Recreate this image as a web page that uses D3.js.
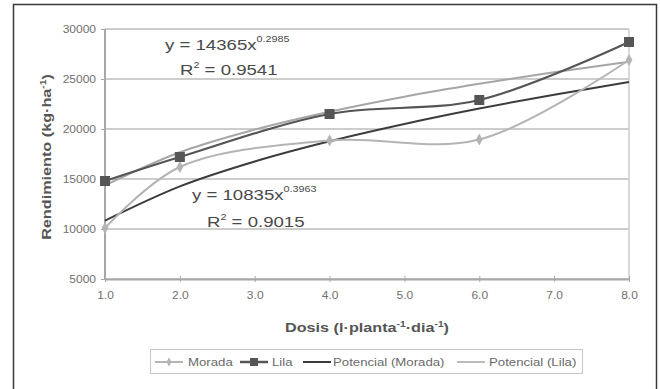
<!DOCTYPE html>
<html>
<head>
<meta charset="utf-8">
<script src="https://cdn.jsdelivr.net/npm/d3@7"></script>
<style>
  body { margin: 0; background: #fff; }
  svg { display: block; font-family: "Liberation Sans", Arial, sans-serif; }
  .tick text { fill: #707070; font-size: 10px; }
</style>
</head>
<body>
<div id="chart"></div>
<script>
// dose (l·planta-1·dia-1) and yield (kg·ha-1)
const doses = [1, 2, 4, 6, 8];
const morada = [10100, 16200, 18850, 18950, 26900];
const lila = [14800, 17200, 21500, 22900, 28700];

// power trendlines, sampled at each whole dose
const trendDoses = [1, 2, 3, 4, 5, 6, 7, 8];
const trendMorada = [10840, 14260, 16750, 18770, 20500, 22040, 23430, 24700];
const trendLila = [14370, 17670, 19940, 21730, 23230, 24520, 25680, 26720];

const yTicks = [5000, 10000, 15000, 20000, 25000, 30000];
const xTicks = [1, 2, 3, 4, 5, 6, 7, 8];

const width = 660, height = 389;
const svg = d3.select("#chart").append("svg")
  .attr("width", width).attr("height", height);

// the scanned figure is a little wider than tall, so stretch the type
const STRETCH = 1.2;
function stretch(sel) {
  sel.each(function () {
    const len = this.getComputedTextLength();
    d3.select(this).attr("textLength", len * STRETCH).attr("lengthAdjust", "spacingAndGlyphs");
  });
}

// outer frame (open at the bottom, as in the scan)
svg.append("path")
  .attr("d", "M13.5,395 V4.5 H656.5 V395")
  .attr("fill", "none").attr("stroke", "#3a3a3a").attr("stroke-width", 1.5);

const x = d3.scaleLinear().domain([1, 8]).range([105, 629]);
const y = d3.scaleLinear().domain([5000, 30000]).range([279, 29]);

// gridlines
svg.append("g").selectAll("line").data(yTicks).join("line")
  .attr("x1", x(1)).attr("x2", x(8))
  .attr("y1", d => y(d)).attr("y2", d => y(d))
  .attr("stroke", "#cdcdcd").attr("stroke-width", 2);
svg.append("line")
  .attr("x1", x(8)).attr("x2", x(8)).attr("y1", y(30000)).attr("y2", y(5000))
  .attr("stroke", "#cdcdcd").attr("stroke-width", 1.5);

// axes
const yAxis = svg.append("g").attr("transform", `translate(${x(1)},0)`)
  .call(d3.axisLeft(y).tickValues(yTicks).tickSize(4).tickPadding(5).tickFormat(d3.format("d")));
const xAxis = svg.append("g").attr("transform", `translate(0,${y(5000)})`)
  .call(d3.axisBottom(x).tickValues(xTicks).tickSizeInner(3).tickSizeOuter(0).tickPadding(10)
    .tickFormat(d3.format(".1f")));
[yAxis, xAxis].forEach(a => {
  a.select(".domain").attr("stroke", "#a8a8a8").attr("stroke-width", 2);
  a.selectAll(".tick line").attr("stroke", "#a8a8a8");
  stretch(a.selectAll(".tick text"));
});
yAxis.select(".domain").attr("d", `M0,${y(30000)}V${y(5000)}`);
xAxis.selectAll(".tick line").attr("y1", -3).attr("y2", 3);

// axis titles
const yt = svg.append("text")
  .attr("transform", `translate(51,${y(17200)}) rotate(-90)`)
  .attr("text-anchor", "middle").attr("font-size", 13.5).attr("font-weight", "bold")
  .attr("fill", "#555");
yt.append("tspan").text("Rendimiento (kg·ha");
yt.append("tspan").attr("dy", -5).attr("font-size", 8.5).text("-1");
yt.append("tspan").attr("dy", 5).text(")");

const xt = svg.append("text")
  .attr("x", 367).attr("y", 332)
  .attr("text-anchor", "middle").attr("font-size", 13.5).attr("font-weight", "bold")
  .attr("fill", "#555");
xt.append("tspan").text("Dosis (l·planta");
xt.append("tspan").attr("dy", -5).attr("font-size", 8.5).text("-1");
xt.append("tspan").attr("dy", 5).text("·dia");
xt.append("tspan").attr("dy", -5).attr("font-size", 8.5).text("-1");
xt.append("tspan").attr("dy", 5).text(")");
stretch(yt);
stretch(xt);

// series
const colMorada = "#b4b4b4", colLila = "#555555";
const colTrendMorada = "#3c3c3c", colTrendLila = "#a6a6a6";

const smooth = d3.line().x(d => x(d[0])).y(d => y(d[1])).curve(d3.curveCatmullRom.alpha(0.5));
const trend = d3.line().x(d => x(d[0])).y(d => y(d[1])).curve(d3.curveMonotoneX);

svg.append("path").datum(d3.zip(trendDoses, trendLila))
  .attr("d", trend).attr("fill", "none").attr("stroke", colTrendLila).attr("stroke-width", 2);
svg.append("path").datum(d3.zip(trendDoses, trendMorada))
  .attr("d", trend).attr("fill", "none").attr("stroke", colTrendMorada).attr("stroke-width", 2);
svg.append("path").datum(d3.zip(doses, morada))
  .attr("d", smooth).attr("fill", "none").attr("stroke", colMorada).attr("stroke-width", 2);
svg.append("path").datum(d3.zip(doses, lila))
  .attr("d", smooth).attr("fill", "none").attr("stroke", colLila).attr("stroke-width", 2.2);

const diamond = d3.symbol().type(d3.symbolDiamond).size(40);
svg.append("g").selectAll("path").data(d3.zip(doses, morada)).join("path")
  .attr("transform", d => `translate(${x(d[0])},${y(d[1])})`)
  .attr("d", diamond).attr("fill", colMorada);
svg.append("g").selectAll("rect").data(d3.zip(doses, lila)).join("rect")
  .attr("x", d => x(d[0]) - 5).attr("y", d => y(d[1]) - 5)
  .attr("width", 10).attr("height", 10).attr("fill", colLila);

// trendline equations
function equation(ex, ey, rx, ry, coef, expo, r2) {
  const e = svg.append("text").attr("x", ex).attr("y", ey)
    .attr("font-size", 15.5).attr("fill", "#4a4a4a");
  e.append("tspan").text(`y = ${coef}x`);
  e.append("tspan").attr("dy", -8).attr("font-size", 9).text(expo);
  const r = svg.append("text").attr("x", rx).attr("y", ry)
    .attr("font-size", 15.5).attr("fill", "#4a4a4a");
  r.append("tspan").text("R");
  r.append("tspan").attr("dy", -7).attr("font-size", 9).text("2");
  r.append("tspan").attr("dy", 7).text(` = ${r2}`);
  stretch(e);
  stretch(r);
}
equation(165, 50, 180, 75, "14365", "0.2985", "0.9541");
equation(192, 200, 207, 227, "10835", "0.3963", "0.9015");

// legend
const lg = svg.append("g");
lg.append("rect").attr("x", 150.5).attr("y", 349.5).attr("width", 432).attr("height", 24)
  .attr("fill", "#fff").attr("stroke", "#c8c8c8");
const items = [
  { name: "Morada", color: colMorada, w: 2, mark: "diamond", x0: 155, tx: 188 },
  { name: "Lila", color: colLila, w: 2.5, mark: "square", x0: 240, tx: 272 },
  { name: "Potencial (Morada)", color: colTrendMorada, w: 2, mark: null, x0: 303, tx: 333 },
  { name: "Potencial (Lila)", color: colTrendLila, w: 1.5, mark: null, x0: 457, tx: 489 },
];
const ly = 362;
items.forEach(it => {
  lg.append("line").attr("x1", it.x0).attr("x2", it.x0 + 28).attr("y1", ly).attr("y2", ly)
    .attr("stroke", it.color).attr("stroke-width", it.w);
  if (it.mark === "diamond") {
    lg.append("path").attr("transform", `translate(${it.x0 + 14},${ly})`)
      .attr("d", d3.symbol().type(d3.symbolDiamond).size(24)).attr("fill", it.color);
  } else if (it.mark === "square") {
    lg.append("rect").attr("x", it.x0 + 10).attr("y", ly - 4).attr("width", 8).attr("height", 8)
      .attr("fill", it.color);
  }
  const t = lg.append("text").attr("x", it.tx).attr("y", ly + 4)
    .attr("font-size", 11).attr("fill", "#6a6a6a").text(it.name);
  stretch(t);
});
</script>
</body>
</html>
